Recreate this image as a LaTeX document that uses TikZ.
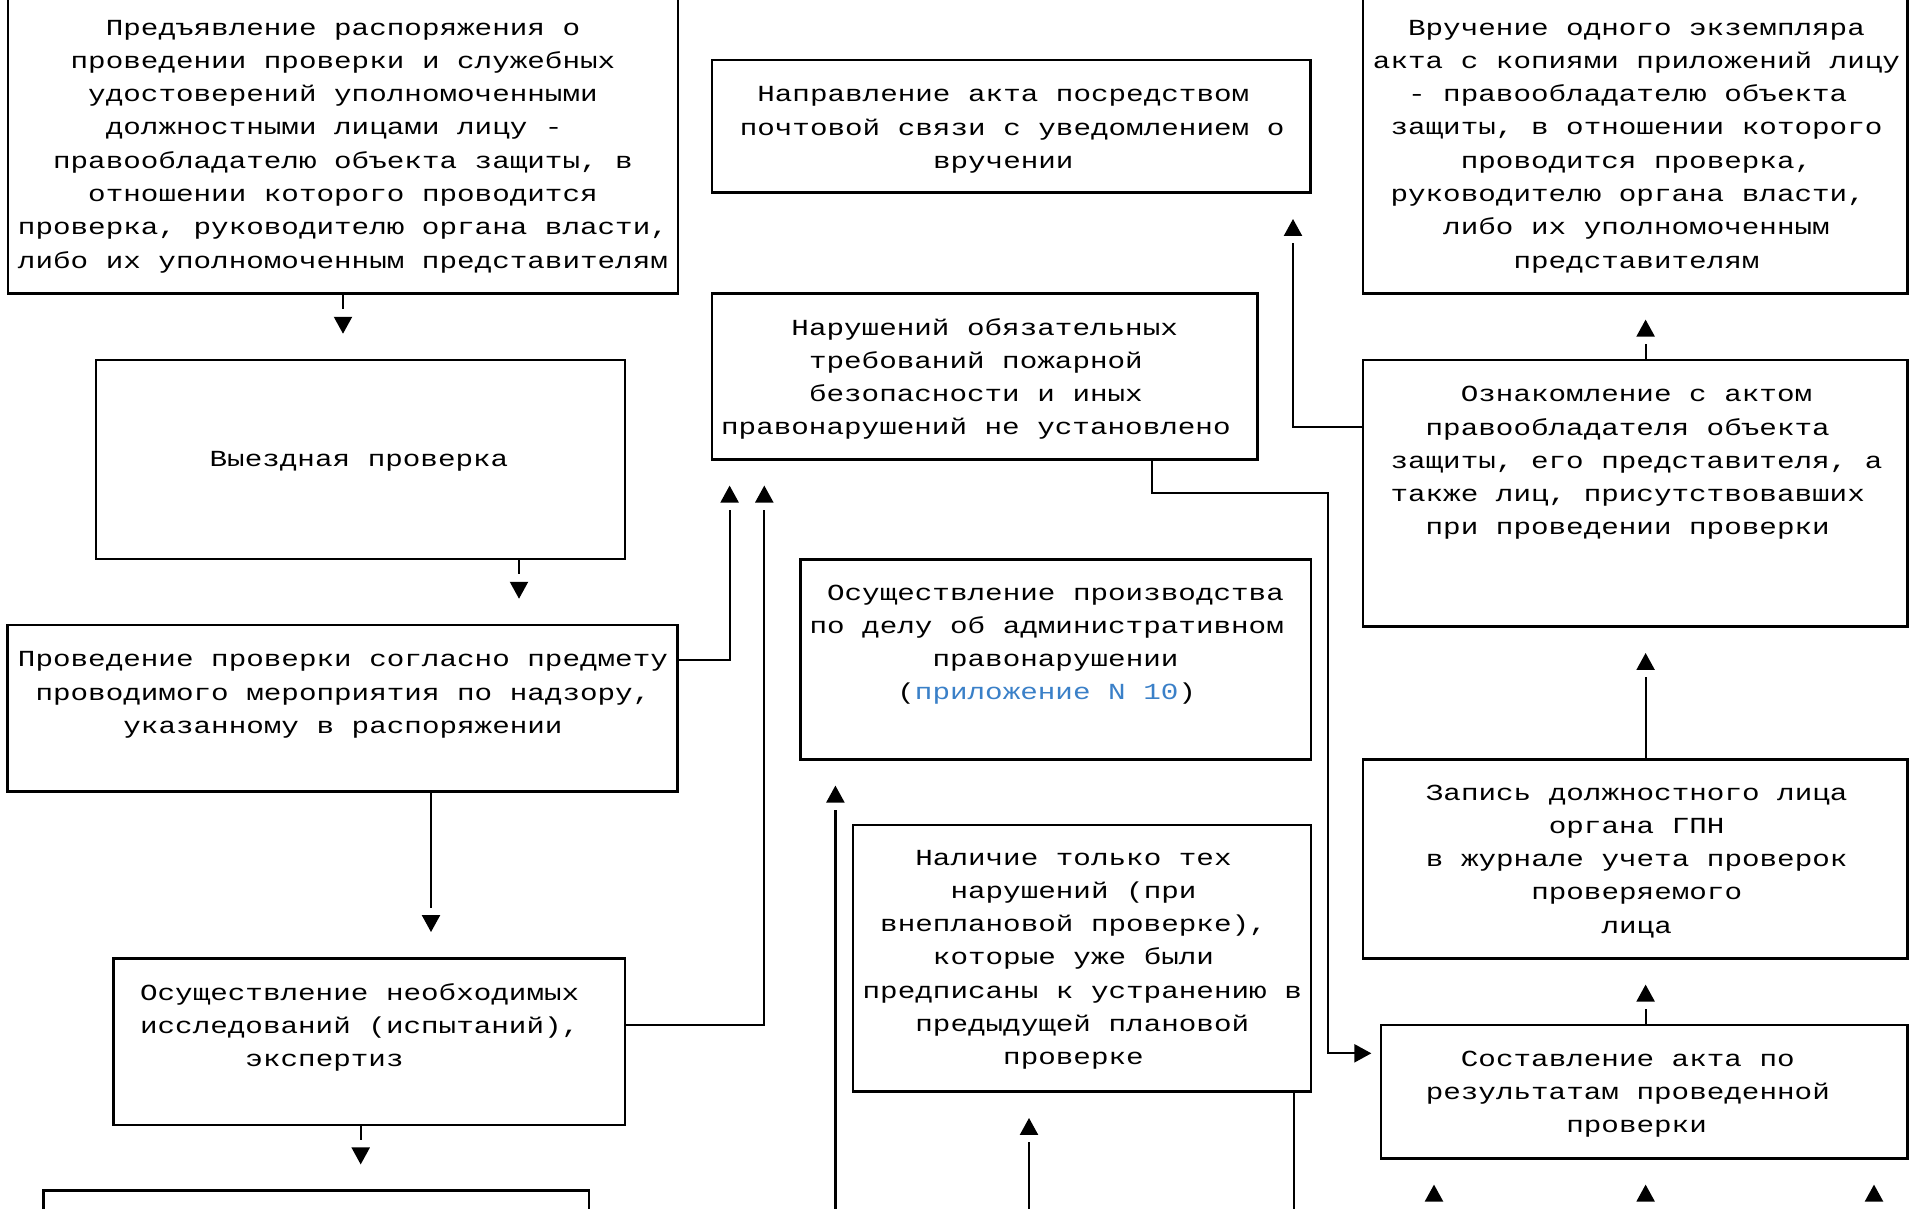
\documentclass[tikz,border=0pt]{standalone}
\usepackage{fontspec}
\newfontfamily\refmono[FakeStretch=1.273]{Liberation Mono}
\usetikzlibrary{arrows.meta,decorations.markings}
\definecolor{linkblue}{RGB}{58,128,200}
\tikzset{
  box/.style={draw=black, line width=2.5pt, inner sep=0pt, rectangle},
  sz/.style 2 args={minimum width=#1pt, minimum height=#2pt},
  txt/.style={font=\refmono\fontsize{23pt}{33.3pt}\selectfont, align=flush center,
              inner sep=0pt, anchor=base, text width=#1},
  txt/.default=600pt,
  conn/.style={draw=black, line width=2.2pt},
  garrow/.style={conn, shorten >=49.5pt,
    postaction={decorate, decoration={markings,
      mark=at position -25pt with {\arrow{Triangle[width=18pt,length=17pt]}}}}},
  harrow/.style={conn, shorten >=8.4pt, -{Triangle[width=18pt,length=17pt]}},
}
\begin{document}
\begin{tikzpicture}[x=1pt,y=-1pt]
\useasboundingbox (0,0) rectangle (1909,1208);
\clip (0,0) rectangle (1909,1208);
\fill[white] (0,0) rectangle (1909,1208);

% boxes
\node[box, sz={670}{313.3}]   (a) at (343,136.65) {};
\node[box, sz={529}{199}]     (b) at (360.5,459.5) {};
\node[box, sz={669.9}{166.7}] (c) at (342.65,708.35) {};
\node[box, sz={545.8}{165.9}] (d) at (984.7,376.35) {};
\node[box, sz={511.7}{166.7}] (e) at (369.15,1041.65) {};
\node[box, sz={545.7}{109.3}] (f) at (316.15,1245.35) {};
\node[box, sz={598.8}{132.7}] (g) at (1011.2,126.35) {};
\node[box, sz={544.3}{266.7}] (h) at (1635.35,493.35) {};
\node[box, sz={544.3}{313.3}] (i) at (1635.35,136.65) {};
\node[box, sz={544.3}{199}]   (j) at (1635.35,858.8) {};
\node[box, sz={526.5}{133.3}] (k) at (1644.25,1091.65) {};
\node[box, sz={510.3}{200}]   (l) at (1055.65,659.3) {};
\node[box, sz={457.8}{266.7}] (m) at (1082.1,958.35) {};

% texts
\node[txt=660pt] (ta) at (343,35) {Предъявление распоряжения о\\проведении проверки и служебных\\удостоверений уполномоченными\\должностными лицами лицу -\hphantom{x}\\правообладателю объекта защиты, в\\отношении которого проводится\\проверка, руководителю органа власти,\\либо их уполномоченным представителям};
\node[txt=320pt] (tb) at (359,466.7) {Выездная проверка};
\node[txt=660pt] (tc) at (343,666.7) {Проведение проверки согласно предмету\\проводимого мероприятия по надзору,\\указанному в распоряжении};
\node[txt=545pt] (td) at (984.7,335) {Нарушений обязательных\\требований пожарной\hphantom{x}\\безопасности и иных\hphantom{x}\\правонарушений не установлено\hphantom{x}};
\node[txt=460pt] (te) at (359.7,1000) {Осуществление необходимых\\исследований (испытаний),\\экспертиз\hphantom{xxxx}};
\node[txt=580pt] (tg) at (1003.3,101.7) {Направление акта посредством\\\hphantom{x}почтовой связи с уведомлением о\\вручении};
\node[txt=510pt] (th) at (1636.5,401.7) {Ознакомление с актом\\правообладателя объекта\hphantom{x}\\защиты, его представителя, а\\также лиц, присутствовавших\hphantom{x}\\при проведении проверки\hphantom{x}};
\node[txt=545pt] (ti) at (1636.5,35) {Вручение одного экземпляра\\акта с копиями приложений лицу\\- правообладателю объекта\hphantom{x}\\защиты, в отношении которого\\проводится проверка,\\руководителю органа власти,\hphantom{x}\\либо их уполномоченным\\представителям};
\node[txt=440pt] (tj) at (1636.7,800) {Запись должностного лица\\органа ГПН\\в журнале учета проверок\\проверяемого\\лица};
\node[txt=440pt] (tk) at (1636.6,1066) {Составление акта по\hphantom{x}\\результатам проведенной\hphantom{x}\\проверки};
\node[txt=510pt] (tl) at (1055.5,600) {Осуществление производства\\по делу об административном\hphantom{x}\\правонарушении\\(\textcolor{linkblue}{приложение N 10})\hphantom{x}};
\node[txt=475pt] (tm) at (1073.5,865) {Наличие только тех\\нарушений (при\\внеплановой проверке),\\которые уже были\\\hphantom{x}предписаны к устранению в\\\hphantom{x}предыдущей плановой\\проверке};

% helper coordinates
\coordinate (xbc) at (519,0);
\coordinate (xce) at (431,0);
\coordinate (xef) at (360.7,0);
\coordinate (ycd) at (0,660);
\coordinate (xcd) at (729.6,0);
\coordinate (yed) at (0,1025);
\coordinate (xed) at (764.3,0);
\coordinate (xdk) at (1152,0);
\coordinate (ydk) at (0,492.7);
\coordinate (xdk2) at (1327.8,0);
\coordinate (yk) at (0,1053.3);
\coordinate (xr) at (1645.6,0);
\coordinate (yhg) at (0,426.7);
\coordinate (xhg) at (1293,0);
\coordinate (xl) at (835.4,0);
\coordinate (xm) at (1029,0);
\coordinate (xmd) at (1293.6,0);
\coordinate (xk1) at (1434,0);
\coordinate (xk3) at (1874,0);
\coordinate (ybot) at (0,1300);

% connectors
\draw[garrow] (a.south) -- (a.south |- b.north);
\draw[garrow] (xbc |- b.south) -- (xbc |- c.north);
\draw[garrow] (xce |- c.south) -- (xce |- e.north);
\draw[garrow] (xef |- e.south) -- (xef |- f.north);
\draw[garrow] (c.east |- ycd) -| (xcd |- d.south);
\draw[garrow] (e.east |- yed) -| (xed |- d.south);
\draw[harrow] (xdk |- d.south) |- (xdk2 |- ydk) |- (k.west |- yk);
\draw[garrow] (xr |- k.north) -- (xr |- j.south);
\draw[garrow] (xr |- j.north) -- (xr |- h.south);
\draw[garrow] (xr |- h.north) -- (xr |- i.south);
\draw[garrow] (h.west |- yhg) -| (xhg |- g.south);
\draw[garrow] (xl |- ybot) -- (xl |- l.south);
\draw[garrow] (xm |- ybot) -- (xm |- m.south);
\draw[conn] (xmd |- m.south) -- (xmd |- ybot);
\draw[garrow] (xk1 |- ybot) -- (xk1 |- k.south);
\draw[garrow] (xr |- ybot) -- (xr |- k.south);
\draw[garrow] (xk3 |- ybot) -- (xk3 |- k.south);
\end{tikzpicture}
\end{document}
